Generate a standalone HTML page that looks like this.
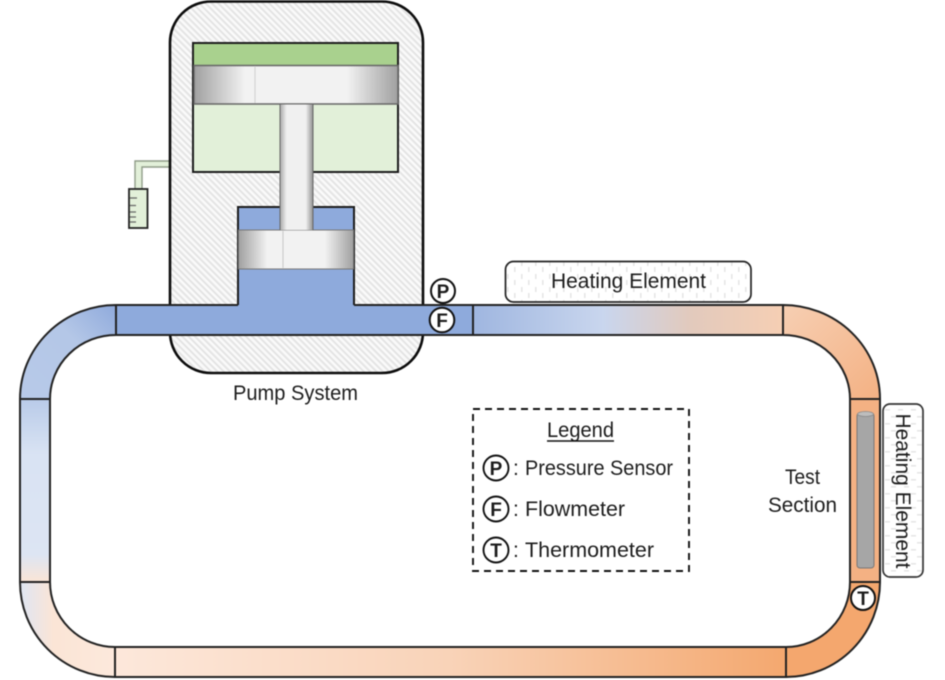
<!DOCTYPE html>
<html><head><meta charset="utf-8">
<style>
html,body{margin:0;padding:0;background:#fff;width:945px;height:680px;overflow:hidden}
svg{display:block;filter:blur(0.4px)}
text{font-family:"Liberation Sans",sans-serif;fill:#1c1c1c}
</style></head><body>
<svg width="945" height="680" viewBox="0 0 945 680" xmlns="http://www.w3.org/2000/svg">
<defs>
<pattern id="hatch" width="4.5" height="4.5" patternUnits="userSpaceOnUse" patternTransform="rotate(45)">
<rect width="4.500" height="4.500" fill="#fafafa"/><rect width="4.500" height="2" fill="#e4e4e4"/>
</pattern>
<pattern id="dots" width="14" height="13" patternUnits="userSpaceOnUse">
<rect width="14" height="13" fill="#fff"/>
<rect x="3" y="1" width="1.600" height="5" fill="#e6e6e6"/>
<rect x="10" y="7" width="1.600" height="5" fill="#e6e6e6"/>
</pattern>
<pattern id="dotsV" width="13" height="14" patternUnits="userSpaceOnUse">
<rect width="13" height="14" fill="#fff"/>
<rect x="1" y="3" width="5" height="1.600" fill="#e6e6e6"/>
<rect x="7" y="10" width="5" height="1.600" fill="#e6e6e6"/>
</pattern>
<linearGradient id="pist" x1="0" x2="1" y1="0" y2="0">
<stop offset="0" stop-color="#a0a0a0"/><stop offset=".25" stop-color="#f2f2f2"/><stop offset=".75" stop-color="#f2f2f2"/><stop offset="1" stop-color="#a0a0a0"/>
</linearGradient>
<linearGradient id="rod" x1="0" x2="1" y1="0" y2="0">
<stop offset="0" stop-color="#a8a8a8"/><stop offset=".2" stop-color="#f0f0f0"/><stop offset=".78" stop-color="#f0f0f0"/><stop offset="1" stop-color="#909090"/>
</linearGradient>
<linearGradient id="gTop" x1="0" x2="1" y1="0" y2="0">
<stop offset="0" stop-color="#9fb6e0"/><stop offset=".42" stop-color="#c9d6ee"/><stop offset=".7" stop-color="#e2cabd"/><stop offset="1" stop-color="#f6cfb4"/>
</linearGradient>
<linearGradient id="gTL" x1="0" x2="1" y1="1" y2="0">
<stop offset="0" stop-color="#b8cae9"/><stop offset=".6" stop-color="#b4c7e7"/><stop offset="1" stop-color="#8faadc"/>
</linearGradient>
<linearGradient id="gTR" x1="0" x2="1" y1="0" y2="1">
<stop offset="0" stop-color="#f7cfb3"/><stop offset="1" stop-color="#f4b183"/>
</linearGradient>
<linearGradient id="gL" x1="0" x2="0" y1="0" y2="1">
<stop offset="0" stop-color="#b9cbe9"/><stop offset=".3" stop-color="#d9e3f3"/><stop offset=".85" stop-color="#dde5f3"/><stop offset="1" stop-color="#fbe5d6"/>
</linearGradient>
<linearGradient id="gBL" x1="0" x2="1" y1="0" y2="0">
<stop offset="0" stop-color="#dfe6f3"/><stop offset=".35" stop-color="#fbe5d6"/><stop offset="1" stop-color="#fde9dc"/>
</linearGradient>
<linearGradient id="gB" x1="0" x2="1" y1="0" y2="0">
<stop offset="0" stop-color="#fde8db"/><stop offset=".5" stop-color="#f9d3b8"/><stop offset="1" stop-color="#f4a86f"/>
</linearGradient>
</defs>

<!-- side gauge -->
<path d="M171 161H135V189H142V167H171Z" fill="#e2f0d9" stroke="#8f9c88" stroke-width="1.400"/>
<rect x="129" y="189" width="18.500" height="39" fill="#e2f0d9" stroke="#222" stroke-width="1.800"/>
<path d="M130 198h7M130 205.500h6M130 212h6M130 217h6M130 222h6" stroke="#666" stroke-width="1.200"/>

<!-- pump body -->
<rect x="170" y="1.500" width="253" height="371.500" rx="41" fill="url(#hatch)" stroke="#0c0c0c" stroke-width="2.600"/>

<!-- upper cylinder -->
<rect x="193" y="43" width="205" height="129" fill="#e2f0d9" stroke="#1c1c1c" stroke-width="2"/>
<rect x="194" y="44" width="203" height="21" fill="#a9d18e"/>
<rect x="194" y="65.500" width="204" height="38.500" fill="url(#pist)" stroke="#666" stroke-width="1.500"/>
<line x1="255" y1="66" x2="255" y2="103" stroke="#d0d0d0" stroke-width="1"/>

<!-- lower cavity blue -->
<path d="M238 305V207H354V305Z" fill="#8eaadc" stroke="#1c1c1c" stroke-width="2"/>
<rect x="238.500" y="230" width="115" height="39" fill="url(#pist)" stroke="#777" stroke-width="1"/>
<line x1="283" y1="231" x2="283" y2="268" stroke="#c8c8c8" stroke-width="1"/>

<!-- rod -->
<rect x="280" y="104.500" width="33" height="125.500" fill="url(#rod)" stroke="none"/>
<path d="M280 104.500V230M313 104.500V230" stroke="#666" stroke-width="1"/>

<!-- pipes -->
<g stroke="#222" stroke-width="2">
<rect x="116" y="305" width="357" height="30" fill="#8eaadc" stroke="none"/>
<rect x="239" y="300" width="114" height="8" fill="#8eaadc" stroke="none"/>
<path d="M116 305H238M354 305H473M116 335H473" fill="none"/>
<rect x="473" y="305" width="310" height="30" fill="url(#gTop)"/>
<path d="M116 305A96 94 0 0 0 20 399L50 399A66 64 0 0 1 116 335Z" fill="url(#gTL)"/>
<path d="M783 305A97 94 0 0 1 880 399L850 399A67 64 0 0 0 783 335Z" fill="url(#gTR)"/>
<rect x="20" y="399" width="30" height="183" fill="url(#gL)"/>
<rect x="850" y="399" width="30" height="183" fill="#f4b183"/>
<path d="M20 582A95 95 0 0 0 115 677L115 647A65 65 0 0 1 50 582Z" fill="url(#gBL)"/>
<path d="M880 582A94 95 0 0 1 786 677L786 647A64 65 0 0 0 850 582Z" fill="#f4a76e"/>
<rect x="115" y="647" width="671" height="30" fill="url(#gB)"/>
<line x1="116" y1="305" x2="116" y2="335"/>
<line x1="473" y1="305" x2="473" y2="335"/>
</g>

<!-- test heater rod -->
<rect x="857" y="413" width="17" height="155" rx="3" fill="#a6a6a6" stroke="#777" stroke-width="1"/>
<ellipse cx="865.500" cy="414" rx="8" ry="2.500" fill="#bdbdbd" stroke="#888" stroke-width=".8"/>

<!-- heating elements -->
<rect x="505.500" y="261.500" width="245.500" height="40.500" rx="8" fill="url(#dots)" stroke="#222" stroke-width="1.700"/>
<text x="551" y="288" font-size="21" textLength="155" lengthAdjust="spacingAndGlyphs">Heating Element</text>
<rect x="883" y="404" width="40" height="173" rx="7" fill="url(#dotsV)" stroke="#333" stroke-width="1.700"/>
<text transform="translate(896,413.500) rotate(90)" font-size="21" textLength="155" lengthAdjust="spacingAndGlyphs">Heating Element</text>

<!-- sensors -->
<g fill="#fff" stroke="#111" stroke-width="2">
<circle cx="443" cy="291" r="12"/>
<circle cx="442" cy="320" r="12.300"/>
<circle cx="863" cy="598" r="12"/>
</g>
<g font-size="19" text-anchor="middle" font-weight="bold">
<text x="443" y="298">P</text>
<text x="442" y="327">F</text>
<text x="863" y="605">T</text>
</g>

<!-- labels -->
<text x="233" y="400" font-size="21" textLength="125" lengthAdjust="spacingAndGlyphs">Pump System</text>
<text x="785" y="484" font-size="21" textLength="35" lengthAdjust="spacingAndGlyphs">Test</text>
<text x="768" y="512" font-size="21" textLength="69" lengthAdjust="spacingAndGlyphs">Section</text>

<!-- legend -->
<rect x="473" y="409" width="216" height="162" fill="none" stroke="#111" stroke-width="1.900" stroke-dasharray="7 5"/>
<text x="547" y="437" font-size="21" textLength="67" lengthAdjust="spacingAndGlyphs">Legend</text>
<line x1="547" y1="441" x2="614" y2="441" stroke="#111" stroke-width="1.500"/>
<g fill="none" stroke="#111" stroke-width="1.900">
<circle cx="496" cy="468" r="12.500"/><circle cx="496" cy="509" r="12.500"/><circle cx="496" cy="550" r="12.500"/>
</g>
<g font-size="19" text-anchor="middle" font-weight="bold">
<text x="496" y="475">P</text>
<text x="496" y="516">F</text>
<text x="496" y="557">T</text>
</g>
<g font-size="21">
<text x="513" y="475">:</text><text x="525" y="475" textLength="148" lengthAdjust="spacingAndGlyphs">Pressure Sensor</text>
<text x="513" y="516">:</text><text x="525" y="516" textLength="100" lengthAdjust="spacingAndGlyphs">Flowmeter</text>
<text x="513" y="557">:</text><text x="525" y="557" textLength="129" lengthAdjust="spacingAndGlyphs">Thermometer</text>
</g>
</svg>
</body></html>
